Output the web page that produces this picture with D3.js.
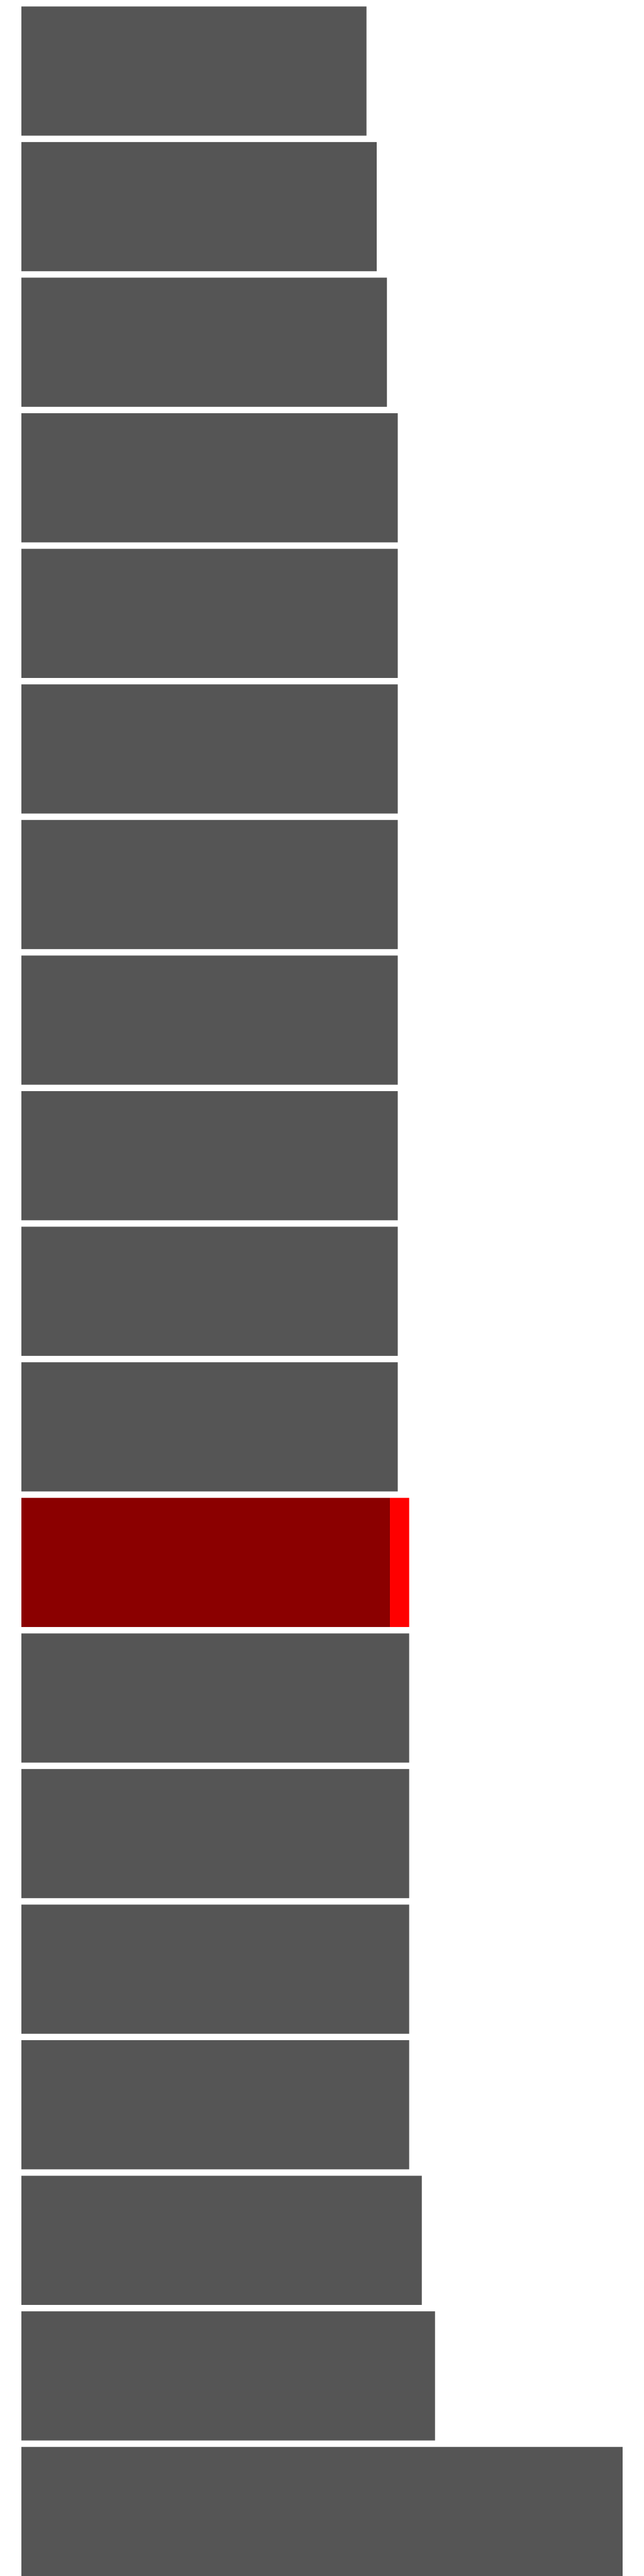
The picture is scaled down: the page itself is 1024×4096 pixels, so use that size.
<!DOCTYPE html>
<html>
<head>
<meta charset="utf-8">
<script src="https://cdn.jsdelivr.net/npm/d3@7"></script>
<style>
  html, body { margin: 0; padding: 0; background: #fff; }
  svg { display: block; }
</style>
</head>
<body>
<div id="chart"></div>
<script>
// ---- data ----
const categories = ["c1","c2","c3","c4","c5","c6","c7","c8","c9","c10",
                    "c11","c12","c13","c14","c15","c16","c17","c18","c19"];
const baseValues = [57.4, 59.1, 60.8, 62.6, 62.6, 62.6, 62.6, 62.6, 62.6, 62.6,
                    62.6, 61.3, 64.5, 64.5, 64.5, 64.5, 66.6, 68.8, 100];
const extraValues = [0, 0, 0, 0, 0, 0, 0, 0, 0, 0,
                     0, 3.2, 0, 0, 0, 0, 0, 0, 0];
const highlightIndex = 11;
const xDomainMax = 100;

// ---- layout ----
const W = 1024, H = 4096;
const left = 34, right = 990;
const step = 215.58, gap = 10.2;

const svg = d3.select("#chart").append("svg")
  .attr("width", W).attr("height", H);

const x = d3.scaleLinear().domain([0, xDomainMax]).range([left, right]);
const y = d3.scaleBand()
  .domain(categories)
  .range([5.2, 5.2 + step * categories.length])
  .paddingInner(gap / step)
  .paddingOuter(gap / step / 2);

const rows = categories.map((c, i) => ({
  cat: c, base: baseValues[i], extra: extraValues[i], hl: i === highlightIndex
}));

svg.append("g").selectAll("rect.base")
  .data(rows).join("rect")
  .attr("class", "base")
  .attr("x", x(0))
  .attr("y", d => y(d.cat))
  .attr("width", d => x(d.base) - x(0))
  .attr("height", y.bandwidth())
  .attr("fill", d => d.hl ? "#8b0000" : "#555555");

svg.append("g").selectAll("rect.extra")
  .data(rows.filter(d => d.extra > 0)).join("rect")
  .attr("class", "extra")
  .attr("x", d => x(d.base))
  .attr("y", d => y(d.cat))
  .attr("width", d => x(d.base + d.extra) - x(d.base))
  .attr("height", y.bandwidth())
  .attr("fill", "#ff0000");
</script>
</body>
</html>
